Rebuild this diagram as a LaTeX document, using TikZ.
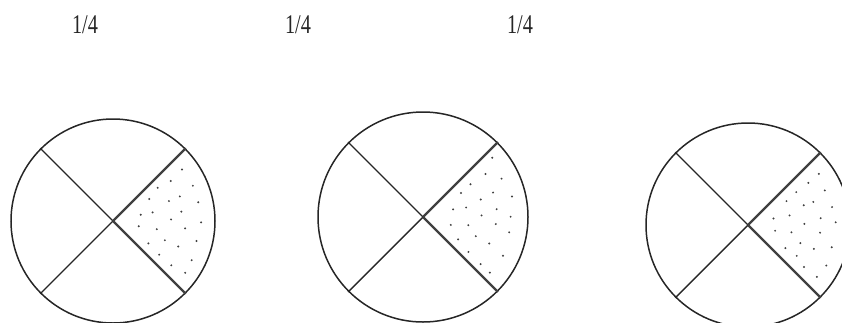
\documentclass[tikz,border=0pt]{standalone}
\usepackage{fontspec}
\setmainfont{Liberation Serif}
\newcommand\quarterdots[2]{%
  \foreach \f/\a in {0.28/-14,0.28/14,
                     0.42/-30,0.42/-10,0.42/10,0.42/30,
                     0.56/-35,0.56/-18,0.56/0,0.56/18,0.56/35,
                     0.70/-37,0.70/-22,0.70/-7,0.70/7,0.70/22,0.70/37,
                     0.85/-38,0.85/-25,0.85/-12,0.85/0,0.85/12,0.85/25,0.85/38}{%
    \pgfmathsetmacro\ja{\a+rand*3}%
    \pgfmathsetmacro\jf{(\f+rand*0.025)*#2}%
    \fill[dotcol] (#1.center) ++(\ja:\jf) circle (1.1pt);
  }%
}
\begin{document}
\begin{tikzpicture}[x=1pt,y=-1pt,
  disc/.style={circle,draw=black!85,line width=1.5pt,inner sep=0pt,minimum size=#1},
  thinline/.style={draw=black!85,line width=1.4pt},
  thickline/.style={draw=black!75,line width=2.4pt},
  dotcol/.style={black!75},
  lab/.style={inner sep=0pt,font=\fontsize{27}{30}\selectfont,text=black!85}]
\pgfmathsetseed{5}
\path[use as bounding box] (0,0) rectangle (842,322);
\clip (0,0) rectangle (842,322);
\node[disc=204pt] (c1) at (113,221) {};
\node[disc=210pt] (c2) at (423,217) {};
\node[disc=204pt] (c3) at (748,225) {};
\foreach \c in {c1,c2,c3}{
  \draw[thinline] (\c.135) -- (\c.-45);
  \draw[thinline] (\c.225) -- (\c.45);
  \draw[thickline] (\c.center) -- (\c.45);
  \draw[thickline] (\c.center) -- (\c.-45);
}
\quarterdots{c1}{102}
\quarterdots{c2}{105}
\quarterdots{c3}{102}
\node[lab] (l1) at (85,25) {\scalebox{0.75}[1]{1/4}};
\node[lab] (l2) at (298,25) {\scalebox{0.75}[1]{1/4}};
\node[lab] (l3) at (520,25) {\scalebox{0.75}[1]{1/4}};
\end{tikzpicture}
\end{document}
